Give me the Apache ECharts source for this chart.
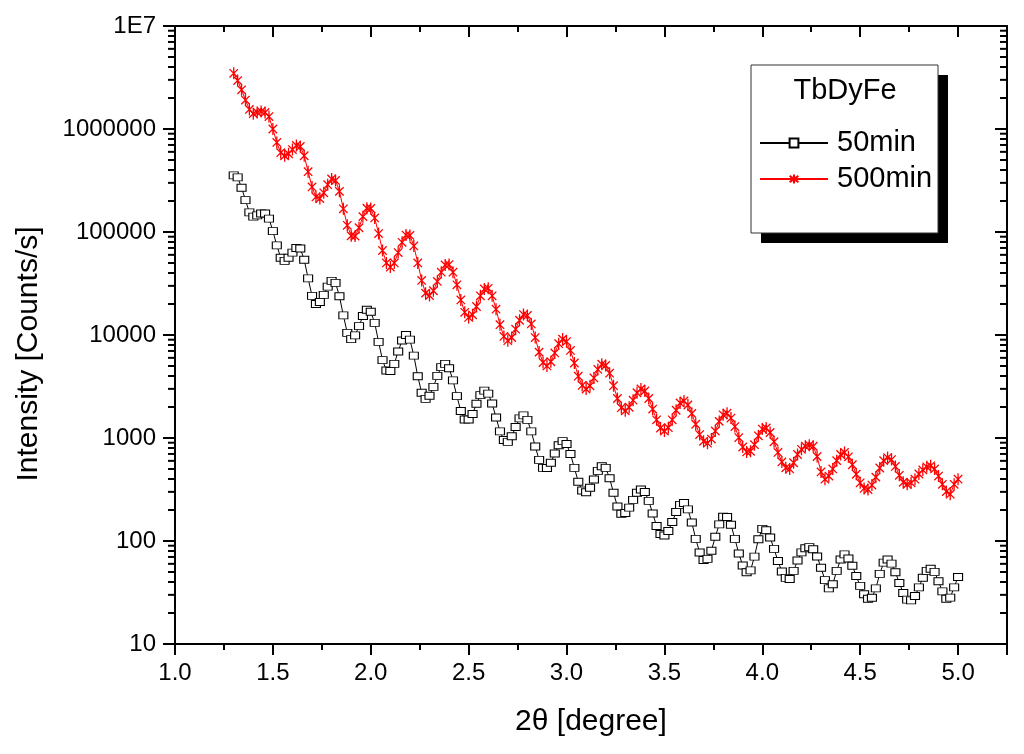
<!DOCTYPE html>
<html>
<head>
<meta charset="utf-8">
<script src="https://cdn.jsdelivr.net/npm/echarts@6/dist/echarts.min.js"></script>
<style>html,body{margin:0;padding:0;background:#fff}#c{width:1024px;height:754px}</style>
</head>
<body>
<div id="c"></div>
<script>
// 2θ scan positions (degree)
var twoTheta = [
1.30,1.32,1.34,1.36,1.38,1.40,1.42,1.44,1.46,1.48,
1.50,1.52,1.54,1.56,1.58,1.60,1.62,1.64,1.66,1.68,
1.70,1.72,1.74,1.76,1.78,1.80,1.82,1.84,1.86,1.88,
1.90,1.92,1.94,1.96,1.98,2.00,2.02,2.04,2.06,2.08,
2.10,2.12,2.14,2.16,2.18,2.20,2.22,2.24,2.26,2.28,
2.30,2.32,2.34,2.36,2.38,2.40,2.42,2.44,2.46,2.48,
2.50,2.52,2.54,2.56,2.58,2.60,2.62,2.64,2.66,2.68,
2.70,2.72,2.74,2.76,2.78,2.80,2.82,2.84,2.86,2.88,
2.90,2.92,2.94,2.96,2.98,3.00,3.02,3.04,3.06,3.08,
3.10,3.12,3.14,3.16,3.18,3.20,3.22,3.24,3.26,3.28,
3.30,3.32,3.34,3.36,3.38,3.40,3.42,3.44,3.46,3.48,
3.50,3.52,3.54,3.56,3.58,3.60,3.62,3.64,3.66,3.68,
3.70,3.72,3.74,3.76,3.78,3.80,3.82,3.84,3.86,3.88,
3.90,3.92,3.94,3.96,3.98,4.00,4.02,4.04,4.06,4.08,
4.10,4.12,4.14,4.16,4.18,4.20,4.22,4.24,4.26,4.28,
4.30,4.32,4.34,4.36,4.38,4.40,4.42,4.44,4.46,4.48,
4.50,4.52,4.54,4.56,4.58,4.60,4.62,4.64,4.66,4.68,
4.70,4.72,4.74,4.76,4.78,4.80,4.82,4.84,4.86,4.88,
4.90,4.92,4.94,4.96,4.98,5.00];

// 50min intensity (Counts/s)
var int50 = [
355000,339000,269000,204000,155000,141000,145000,151000,151000,135000,
102000,74100,56200,52500,56200,63100,70000,69200,53700,35500,
24000,20000,20900,24500,29500,33500,32100,23800,15500,10500,
9120,9910,12200,15300,17600,16800,13100,8570,5700,4520,
4470,5250,6920,8850,10000,9020,6310,3980,2750,2400,
2570,3140,4010,4880,5250,4760,3630,2550,1830,1510,
1510,1710,2150,2610,2880,2700,2160,1580,1160,955,
918,1040,1280,1550,1660,1500,1160,828,614,513,
511,575,708,851,933,875,700,513,376,309,
297,329,395,479,532,513,407,294,216,184,
187,211,251,294,316,299,245,185,140,117,
113,125,153,191,224,234,203,151,105,77.3,
65.3,67.1,80.5,110,145,172,171,144,105,75.7,
57.8,49.7,51.9,70.6,104,131,127,108,83.9,64,
50.5,43.8,42.7,51.3,64.6,77.6,85.1,87.1,83.2,70.8,
55,41.7,34.7,38,51.3,66.1,74.1,67.6,57.5,45.7,
36.7,30.4,27.5,28.1,34.7,48,61.7,66.1,60.3,49.7,
39.1,31.3,27,26.5,29.2,35.5,44,51.3,53.7,50.1,
40.7,32.4,27.5,28.2,35.5,44.7];

// 500min intensity (Counts/s)
var int500 = [
3470000,2950000,2400000,1910000,1550000,1410000,1450000,1480000,1450000,1320000,
1000000,741000,589000,550000,575000,631000,692000,676000,550000,385000,
274000,219000,211000,240000,288000,327000,316000,248000,168000,116000,
92000,91200,110000,141000,170000,169000,137000,96600,66100,50100,
45700,50100,63100,79400,93300,92700,73300,50100,33900,25500,
24200,26900,33100,40700,47900,48300,40700,30700,21900,16600,
14800,15700,18900,24000,28000,28400,24000,17800,12600,9680,
8810,9460,11400,13900,15800,15500,12800,9440,6820,5410,
5010,5500,6700,8240,9120,8630,7080,5350,3980,3240,
2990,3210,3830,4630,5200,5070,4260,3220,2420,1970,
1840,1990,2330,2750,2990,2860,2420,1910,1500,1250,
1170,1260,1500,1860,2190,2290,2090,1730,1360,1080,
929,891,977,1170,1450,1680,1740,1560,1290,1010,
818,733,743,861,1050,1220,1250,1130,920,724,
586,513,501,575,692,776,832,851,832,661,
468,398,427,501,603,692,724,656,550,445,
367,324,316,349,417,511,603,646,617,530,
434,372,355,367,398,447,490,525,537,501,
427,355,302,285,355,398];

var seriesNames = ['50min', '500min'];
var legendTitle = 'TbDyFe';
var xTitle = '2\u03b8 [degree]';
var yTitle = 'Intensity [Counts/s]';
var yMinorFactors = [2, 3, 4, 5, 6, 7, 8, 9];
var yDecades = [10, 100, 1000, 10000, 100000, 1000000];

var FONT = 'Liberation Sans, Arial, sans-serif';
var chart = echarts.init(document.getElementById('c'), null, {renderer: 'canvas'});

function pairs(xs, ys) { return xs.map(function (x, i) { return [x, ys[i]]; }); }

var asterisk = 'path://M5,0L5,10M1.5,1.5L8.5,8.5M1.5,8.5L8.5,1.5';
function tl() { return {color: '#000', width: 2, type: 'solid', opacity: 1}; }

var option = {
  animation: false,
  backgroundColor: '#fff',
  grid: {left: 175, right: 17, top: 26, bottom: 110, containLabel: false},
  xAxis: [{
    type: 'value', min: 1.0, max: 5.25, interval: 0.5,
    name: xTitle, nameLocation: 'middle', nameGap: 63,
    nameTextStyle: {fontFamily: FONT, fontSize: 30, color: '#000'},
    axisLine: {show: true, lineStyle: tl()},
    axisTick: {show: true, inside: false, length: 11, lineStyle: tl()},
    minorTick: {show: true, splitNumber: 2, length: 6, lineStyle: tl()},
    axisLabel: {show: true, fontFamily: FONT, fontSize: 24, color: '#000', margin: 17, showMaxLabel: false,
      formatter: function (v) { return v.toFixed(1); }},
    splitLine: {show: false}
  }, {
    type: 'value', min: 1.0, max: 5.25, interval: 0.5, position: 'top',
    axisLine: {show: true, lineStyle: tl()},
    axisTick: {show: true, inside: true, length: 11, lineStyle: tl()},
    minorTick: {show: true, splitNumber: 2, length: 6, lineStyle: tl()},
    axisLabel: {show: false},
    splitLine: {show: false}
  }],
  yAxis: [{
    type: 'log', logBase: 10, min: 10, max: 10000000,
    axisLine: {show: true, lineStyle: tl()},
    axisTick: {show: true, inside: false, length: 12, lineStyle: tl()},
    axisLabel: {show: true, fontFamily: FONT, fontSize: 24, color: '#000', margin: 19,
      formatter: function (v) { var r = Math.round(v); return r >= 10000000 ? '1E7' : String(r); }},
    splitLine: {show: false}
  }, {
    type: 'log', logBase: 10, min: 10, max: 10000000, position: 'right',
    axisLine: {show: true, lineStyle: tl()},
    axisTick: {show: true, inside: true, length: 12, lineStyle: tl()},
    axisLabel: {show: false},
    splitLine: {show: false}
  }],
  legend: {
    orient: 'vertical', left: 759, top: 128, z: 10, padding: 0,
    itemWidth: 68, itemHeight: 11, itemGap: 6,
    textStyle: {fontFamily: FONT, fontSize: 29, color: '#000', lineHeight: 30, padding: [0, 0, 0, 4]},
    data: seriesNames
  },
  series: [{
    name: seriesNames[1], type: 'line', xAxisIndex: 0, yAxisIndex: 0,
    data: pairs(twoTheta, int500),
    symbol: asterisk, symbolSize: 12, symbolKeepAspect: true, showAllSymbol: true,
    lineStyle: {color: '#ff0000', width: 1},
    itemStyle: {color: '#ff0000', borderColor: '#ff0000', borderWidth: 1.3},
    z: 3
  }, {
    name: seriesNames[0], type: 'line', xAxisIndex: 0, yAxisIndex: 0,
    data: pairs(twoTheta, int50),
    symbol: 'rect', symbolSize: [9, 7], showAllSymbol: true,
    lineStyle: {color: '#000', width: 1},
    itemStyle: {color: '#fff', borderColor: '#000', borderWidth: 1},
    z: 4
  }]
};
chart.setOption(option);

// legend frame + shadow, titles, and log-axis minor ticks placed through the axis scale
var g = [
  {type: 'rect', shape: {x: 761, y: 75, width: 187, height: 168}, style: {fill: '#000'}, z: 1},
  {type: 'rect', shape: {x: 751, y: 65, width: 187, height: 168}, style: {fill: '#fff', stroke: '#333', lineWidth: 1}, z: 2},
  {type: 'text', x: 845, y: 91, style: {text: legendTitle, font: '29px ' + FONT, fill: '#000', align: 'center', verticalAlign: 'middle'}, z: 3},
  {type: 'text', x: 29, y: 354, rotation: Math.PI / 2, style: {text: yTitle, font: '30px ' + FONT, fill: '#000', align: 'center', verticalAlign: 'middle'}, z: 3}
];

function num(p, i) {
  if (Array.isArray(p)) p = p[i];
  return (typeof p === 'number' && isFinite(p)) ? p : NaN;
}
function yPix(v) {
  var p = num(chart.convertToPixel({yAxisIndex: 0}, v), 1);
  if (!isFinite(p)) p = num(chart.convertToPixel({gridIndex: 0}, [1.0, v]), 1);
  if (!isFinite(p)) p = num(chart.convertToPixel({seriesIndex: 0}, [1.0, v]), 1);
  return p;
}
function xPix(v) {
  var p = num(chart.convertToPixel({xAxisIndex: 0}, v), 0);
  if (!isFinite(p)) p = num(chart.convertToPixel({gridIndex: 0}, [v, 100]), 0);
  if (!isFinite(p)) p = num(chart.convertToPixel({seriesIndex: 0}, [v, 100]), 0);
  return p;
}
var xL = xPix(1.0), xR = xPix(5.25);
yDecades.forEach(function (d) {
  yMinorFactors.forEach(function (k) {
    var yy = yPix(k * d);
    if (!isFinite(yy) || !isFinite(xL) || !isFinite(xR)) return;
    g.push({type: 'rect', silent: true, shape: {x: xL - 7, y: yy - 1, width: 7, height: 2}, style: {fill: '#000'}, z: 50});
    g.push({type: 'rect', silent: true, shape: {x: xR - 7, y: yy - 1, width: 7, height: 2}, style: {fill: '#000'}, z: 50});
  });
});
chart.setOption({graphic: {elements: g}});
</script>
</body>
</html>
